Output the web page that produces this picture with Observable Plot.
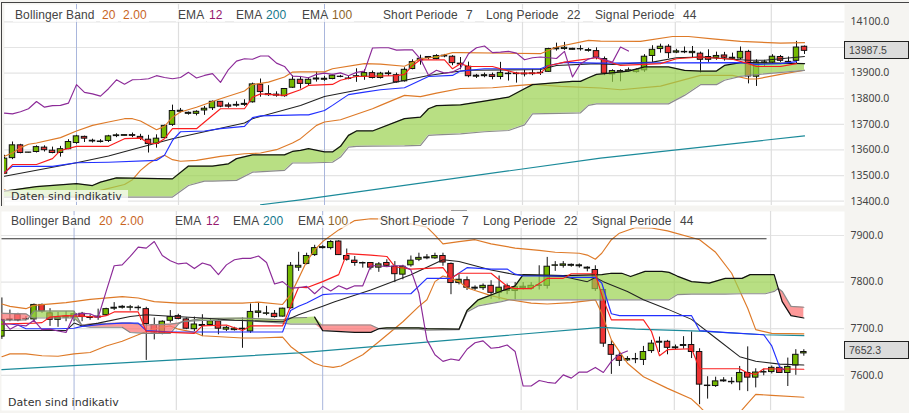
<!DOCTYPE html>
<html><head><meta charset="utf-8">
<script src="https://cdn.jsdelivr.net/npm/d3@7"></script>
<script src="https://cdn.jsdelivr.net/npm/@observablehq/plot@0.6"></script>
<style>
html,body{margin:0;padding:0;background:#f5f4f1;overflow:hidden}
#c{position:relative;width:909px;height:413px;overflow:hidden;font-family:"Liberation Sans",Arial,sans-serif}
#c svg{position:absolute;left:0;background:transparent}
.lg{position:absolute;font-size:12px;line-height:13px;height:13px;color:#444;background:rgba(255,255,255,.72);padding:0 2px;margin-left:-2px;white-space:nowrap;letter-spacing:.1px}
.box{position:absolute;left:844px;width:65px;height:18px;box-sizing:border-box;border:1px solid #222;background:#dcdcdc;font-size:10.5px;line-height:16px;padding-left:4px;color:#444}
.ind{position:absolute;font-family:"DejaVu Sans",sans-serif;font-size:11px;line-height:12px;height:12px;color:#333;letter-spacing:.05px}
.edge{position:absolute;background:#444}
</style></head><body><div id="c"></div>
<script>
// ---------- upper chart ----------
const topOpen=[13507,13568,13618,13589,13592,13609,13597,13588,13603,13627,
13651,13633,13631,13635,13654,13655,13658,13651,13640,13624,
13646,13698,13749,13741,13741,13754,13763,13788,13774,13773,
13776,13786,13855,13818,13816,13810,13843,13874,13858,13875,
13874,13877,13885,13877,13887,13886,13900,13881,13896,13892,
13868,13916,13950,13959,13955,13965,13964,13934,13925,13886,
13888,13892,13885,13896,13896,13895,13896,13900,13905,13993,
13994,13991,13993,13987,13986,13955,13895,13908,13908,13904,
13911,13967,13994,14003,13980,13981,13978,13976,13963,13960,
13969,13956,13957,13983,13886,13939,13941,13963,13942,13948,14003];
const topHigh=[13579,13631,13622,13590,13616,13616,13611,13614,13640,13657,
13654,13642,13640,13657,13663,13658,13666,13661,13657,13659,
13697,13775,13762,13748,13753,13770,13791,13789,13783,13788,
13796,13861,13877,13851,13827,13840,13890,13887,13882,13904,
13887,13895,13891,13887,13917,13913,13908,13903,13908,13900,
13921,13952,13970,13965,13972,13973,13968,13961,13943,13895,
13900,13900,13942,13905,13903,13911,13913,13917,13997,14017,
14020,13997,14007,13997,13999,13963,13913,13913,13920,13917,
13972,14007,14013,14011,13993,14002,14004,13982,13991,13982,
13981,13978,14002,13989,13952,13950,13972,13969,13963,14024,14006];
const topLow=[13507,13562,13585,13588,13588,13592,13585,13572,13601,13622,
13629,13627,13627,13629,13648,13655,13648,13637,13588,13607,
13644,13692,13744,13736,13733,13735,13754,13765,13763,13767,
13770,13783,13806,13809,13806,13806,13840,13838,13848,13865,
13868,13874,13882,13874,13864,13872,13877,13877,13887,13861,
13865,13913,13931,13952,13952,13960,13929,13913,13882,13879,
13882,13874,13874,13869,13861,13885,13890,13891,13903,13986,
13989,13990,13986,13982,13952,13890,13864,13866,13903,13900,
13903,13942,13978,13957,13976,13976,13960,13900,13942,13950,
13947,13952,13952,13858,13848,13926,13937,13942,13937,13934,13973];
const topClose=[13566,13618,13588,13590,13611,13599,13588,13603,13631,13653,
13644,13636,13633,13653,13657,13658,13655,13644,13623,13644,
13694,13752,13753,13745,13749,13761,13788,13769,13769,13776,
13780,13856,13826,13814,13812,13838,13874,13858,13874,13879,
13878,13890,13886,13879,13888,13900,13881,13898,13899,13864,
13913,13943,13956,13963,13967,13968,13939,13937,13888,13890,
13892,13885,13901,13898,13898,13898,13899,13901,13994,13997,
13999,13995,13994,13990,13960,13898,13908,13903,13911,13912,
13964,13991,14003,13978,13985,13983,13983,13952,13952,13967,
13960,13960,13983,13887,13942,13942,13964,13948,13944,14000,13987];
const topPurple=[13744,13741,13749,13761,13789,13767,13773,13774,13783,13855,
13825,13819,13810,13839,13874,13857,13874,13875,13878,13890,
13883,13878,13883,13903,13881,13891,13898,13864,13914,13947,
13956,13954,13967,13967,13939,13926,13888,13887,13882,13895,
13900,13895,13901,13890,13903,13908,13998,13999,13999,13990,
13991,13991,13955,13892,13911,13900,13904,13920,13976,13999,
14006,13980,13982,13985,13978,13952,13960,13963,13960,13957,
13985,13885,13937,13955,13963,13952,13943,14002,13986];
const topBandUp=[[0,13575],[1,13588],[2,13609],[3,13622],[4,13627],[7,13648],[9,13674],[11,13696],[13,13709],[15,13722],[16,13722],[17,13713],[19,13679],[20,13692],[21,13728],[22,13748],[24,13767],[27,13800],[30,13830],[31,13855],[33,13865],[35,13885],[36,13904],[37,13905],[40,13905],[41,13917],[45,13937],[47,13935],[50,13927],[52,13956],[54,13963],[56,13980],[57,13980],[67,13976],[69,14002],[73,14028],[74.5,14025],[79.5,14024],[83.5,14043],[85.5,14043],[88.5,14034],[92,14024],[97,14017],[100,14019]];
const topBandLow=[[0,13444],[1,13431],[5,13416],[11,13422],[12,13442],[15,13465],[16,13484],[17,13520],[18,13546],[19,13566],[20,13579],[21,13562],[22,13556],[24,13559],[27,13575],[30,13585],[32,13588],[34,13601],[36,13627],[37,13644],[39,13696],[40,13709],[42,13718],[46,13761],[47,13774],[50,13813],[52,13808],[54,13822],[57,13840],[61,13843],[64,13851],[66,13856],[69.5,13848],[74.5,13842],[77,13835],[82,13849],[87,13891],[91,13891],[93,13877],[94,13877],[97,13895],[100,13911]];
const topBlack=[[0,13497],[9,13550],[13,13576],[16,13602],[21,13644],[30,13705],[31,13722],[37,13774],[40,13809],[45,13839],[49,13865],[51,13878],[53,13891],[56,13904],[58,13911],[67,13914],[69,13930],[74,13937],[76,13934],[81,13943],[84,13960],[87,13963],[90,13956],[93,13950],[95,13950],[100,13965]];
const topRed=[[0,13510],[1,13543],[4,13543],[6,13566],[7,13598],[9,13614],[13,13614],[15,13644],[17,13646],[18,13627],[19,13624],[20,13644],[21,13683],[24,13683],[27,13761],[30,13761],[31,13806],[32,13819],[35,13813],[37,13835],[38,13852],[41,13856],[42,13872],[44,13887],[49,13890],[50,13895],[51,13930],[52,13952],[55,13952],[56,13917],[57,13937],[58,13926],[61,13926],[64,13900],[67,13900],[68,13929],[70,13943],[72,13952],[74,13960],[74.5,13954],[77,13930],[80,13934],[82,13937],[84,13956],[87,13963],[91,13954],[93,13937],[94,13926],[97,13926],[99,13937]];
const topBlue=[[0,13513],[1,13536],[6,13536],[9,13550],[13,13552],[19,13559],[20,13579],[21,13637],[22,13671],[25,13674],[27,13683],[30,13692],[31,13726],[32,13733],[37,13737],[38,13737],[40,13754],[41,13774],[43,13816],[45,13826],[47,13835],[50,13843],[52,13872],[53,13887],[56,13891],[57,13908],[60,13917],[67,13917],[68,13930],[70,13942],[74,13939],[92,13941],[94,13934],[97,13937],[99,13945]];
const topTeal=[[32,13386],[37,13405],[74.5,13568],[100,13655]];
const topCloudAt=[0,4,9,11,12,14,21,23,25,26,28,29,31,35,36,37,38,40,41,42,43,44,46,50,52,53,54,57,60,63,65,66,71,72,73,74,75,78,80,83,85,87,89,90,92,93,100];
const topCloudA=[13439,13457,13468,13461,13474,13491,13487,13537,13537,13537,13546,13566,13581,13581,13594,13598,13605,13592,13592,13614,13657,13674,13674,13722,13728,13761,13773,13776,13791,13806,13839,13855,13868,13868,13882,13895,13898,13908,13924,13924,13911,13908,13908,13930,13941,13941,13937];
const topCloudB=[13416,13416,13416,13416,13416,13416,13416,13461,13478,13478,13480,13481,13513,13520,13549,13549,13549,13551,13552,13572,13611,13614,13615,13616,13618,13657,13659,13663,13671,13676,13698,13741,13744,13745,13774,13780,13780,13780,13780,13780,13813,13855,13855,13872,13887,13891,13911];
const topTicks=[14100,14000,13900,13800,13700,13600,13500,13400];
const topLabels=[14100,13900,13800,13700,13600,13500,13400];
const topLast=13987.5;

// ---------- lower chart ----------
const lowOpen=[7683,7719,7730,7720,7720,7751,7733,7719,7724,7724,
7732,7723,7724,7729,7743,7745,7745,7744,7742,7708,
7689,7717,7727,7720,7699,7706,7708,7716,7698,7697,
7699,7694,7734,7732,7732,7726,7744,7831,7839,7858,
7873,7873,7887,7856,7846,7840,7841,7831,7841,7833,
7816,7836,7848,7851,7851,7856,7839,7798,7804,7786,
7787,7792,7777,7791,7781,7787,7786,7792,7792,7835,
7835,7835,7834,7829,7826,7783,7665,7642,7632,7634,
7633,7652,7670,7672,7658,7663,7665,7650,7577,7577,
7587,7585,7585,7605,7595,7606,7607,7616,7605,7621,7647];
const lowHigh=[7766,7740,7733,7726,7753,7753,7743,7735,7737,7737,
7735,7730,7742,7744,7756,7750,7750,7749,7746,7723,
7717,7739,7731,7723,7725,7730,7722,7719,7705,7703,
7723,7753,7756,7748,7739,7744,7842,7864,7862,7879,
7878,7889,7889,7871,7855,7843,7842,7842,7848,7844,
7836,7856,7862,7859,7862,7862,7841,7816,7811,7792,
7796,7803,7813,7796,7799,7799,7799,7835,7853,7844,
7844,7839,7839,7833,7835,7787,7674,7650,7640,7647,
7662,7675,7682,7675,7665,7683,7693,7657,7597,7596,
7595,7595,7619,7661,7614,7613,7620,7620,7637,7655,7655];
const lowLow=[7677,7715,7715,7717,7715,7733,7705,7703,7715,7715,
7715,7718,7718,7728,7739,7742,7738,7738,7632,7676,
7687,7712,7719,7698,7694,7683,7706,7687,7694,7695,
7658,7690,7723,7728,7723,7725,7742,7823,7837,7855,
7871,7869,7857,7845,7834,7830,7826,7821,7832,7799,
7805,7832,7844,7848,7849,7834,7773,7794,7782,7782,
7782,7763,7762,7773,7762,7783,7783,7783,7785,7823,
7830,7832,7830,7822,7780,7660,7602,7619,7630,7625,
7621,7647,7649,7644,7655,7656,7636,7537,7549,7574,
7585,7580,7567,7565,7573,7599,7603,7605,7576,7600,7641];
const lowClose=[7719,7720,7718,7721,7751,7737,7719,7724,7726,7731,
7725,7725,7726,7742,7745,7747,7746,7745,7710,7692,
7715,7725,7721,7700,7709,7708,7716,7700,7702,7700,
7700,7736,7737,7733,7725,7743,7835,7835,7856,7873,
7875,7886,7858,7848,7841,7841,7831,7838,7835,7817,
7833,7846,7852,7853,7856,7842,7798,7805,7788,7788,
7792,7777,7788,7781,7789,7790,7792,7793,7833,7836,
7838,7837,7836,7831,7785,7668,7644,7631,7635,7635,
7650,7668,7672,7659,7660,7665,7650,7580,7578,7587,
7589,7586,7605,7595,7606,7607,7616,7605,7618,7644,7650];
const lowPurple=[7719,7699,7708,7706,7718,7698,7699,7695,7692,7730,
7733,7732,7724,7780,7835,7837,7855,7875,7873,7887,
7857,7846,7839,7841,7829,7841,7836,7816,7837,7848,
7851,7851,7856,7842,7796,7801,7787,7788,7791,7775,
7791,7781,7792,7785,7792,7792,7835,7835,7833,7835,
7835,7826,7776,7676,7644,7630,7635,7632,7656,7670,
7674,7658,7660,7665,7651,7577,7577,7589,7585,7583,
7601,7594,7607,7607,7617,7606,7630,7645,7652];
const lowBandUp=[[0,7753],[1,7748],[3,7743],[4,7750],[8,7756],[11,7763],[15,7769],[17,7766],[19,7758],[22,7755],[30,7755],[32,7757],[35,7752],[36,7773],[37,7808],[38,7844],[39,7869],[40,7887],[42,7912],[44,7932],[46,7936],[48,7935],[51,7925],[53,7918],[54,7901],[55,7882],[57,7887],[59,7891],[61,7882],[64,7873],[67,7868],[69,7864],[72,7862],[73,7858],[74,7849],[74.8,7862],[76,7891],[77,7905],[79,7917],[81,7916],[83,7910],[87,7891],[89,7864],[91,7819],[93,7744],[94,7698],[96,7690],[100,7689]];
const lowBandLow=[[0,7640],[1,7646],[3,7646],[5,7642],[7,7641],[9,7646],[11,7649],[13,7663],[15,7673],[17,7687],[18,7694],[19,7700],[21,7706],[22,7699],[24,7692],[25,7685],[30,7680],[32,7680],[35,7682],[36,7662],[37,7649],[39,7626],[40,7620],[41.3,7617],[42.3,7620],[45,7644],[47,7672],[50,7715],[52,7748],[53,7762],[54,7801],[55,7813],[56,7808],[57,7801],[58,7788],[59,7782],[61,7771],[63,7763],[66,7755],[68,7753],[71,7756],[74,7762],[74.8,7733],[76,7676],[78,7626],[80,7597],[83,7572],[86,7549],[87,7533],[88,7515],[91,7511],[92,7520],[93,7540],[94,7559],[96,7557],[100,7553]];
const lowBlack=[[0,7696],[8,7696],[9,7712],[10,7706],[12,7712],[16,7726],[18,7730],[20,7728],[25,7723],[29,7718],[35,7715],[37,7730],[40,7748],[41.5,7758],[46,7783],[51,7816],[55,7848],[57,7844],[61,7826],[64,7816],[70,7812],[73,7801],[74,7810],[75,7801],[78,7780],[80,7762],[83,7742],[86,7720],[89,7680],[92,7640],[94,7630],[97,7624],[100,7622]];
const lowRed=[[0,7710],[4,7712],[5,7713],[6,7725],[8,7728],[11,7726],[12,7725],[13,7728],[14,7736],[17,7736],[18,7694],[21,7692],[24,7690],[25,7706],[28,7708],[30,7696],[31,7706],[35,7706],[36,7748],[37,7789],[38,7788],[40,7801],[42,7816],[43,7861],[46,7858],[48,7855],[49,7833],[51,7828],[55,7831],[56,7808],[57,7819],[61,7819],[63,7791],[64,7786],[66,7786],[68,7808],[70,7808],[71,7818],[74,7818],[75,7762],[76,7719],[80,7719],[81,7694],[82,7642],[83,7655],[86,7657],[87,7614],[92,7614],[93,7605],[94,7602],[95,7614],[100,7613]];
const lowBlue=[[0,7710],[1,7710],[2,7708],[3,7700],[7,7700],[9,7701],[10,7705],[13,7710],[15,7712],[17,7712],[18,7696],[21,7693],[30,7693],[35,7693],[36,7739],[37,7748],[38,7755],[40,7773],[41.5,7775],[51,7775],[53,7808],[56,7808],[58,7831],[61,7828],[63,7828],[64,7817],[65,7813],[70,7813],[71,7810],[74,7810],[74.8,7798],[76,7732],[77,7728],[86,7728],[87,7696],[90,7692],[95,7687],[96,7663],[97,7617],[97.5,7612]];
const lowTeal=[[0,7612],[37,7648],[74.8,7703],[79,7699],[87,7695],[95,7687],[100,7685]];
const lowCeiling=[[0,7893],[95.3,7893]];
const lowCloudAt=[0,3,3.5,4,9,10,11,15,16,18,21,22,22.5,25,30,35,36,38,39,40,44,46,47,48,52,53,57,58,59.4,62.3,63.2,64,65,70,74.8,76,77.3,78.4,80.2,82.3,83.2,84.2,86,88.2,90.2,92.3,93.3,95.2,96.3,96.8,97.3,98.4,100];
const lowCloudA=[7718,7719,7726,7738,7738,7706,7703,7703,7692,7690,7690,7710,7715,7722,7723,7719,7723,7724,7725,7696,7692,7692,7700,7702,7702,7700,7699,7739,7762,7781,7786,7792,7816,7814,7816,7819,7819,7812,7823,7823,7821,7813,7801,7798,7808,7808,7816,7816,7816,7787,7758,7728,7723];
const lowCloudB=[7733,7732,7726,7723,7723,7708,7710,7712,7712,7708,7710,7712,7715,7718,7718,7712,7710,7710,7710,7708,7708,7708,7700,7699,7699,7697,7698,7736,7749,7758,7762,7762,7762,7762,7762,7762,7762,7762,7762,7762,7762,7773,7774,7774,7774,7775,7775,7775,7780,7787,7780,7748,7746];
const lowTicks=[7900,7800,7700,7600];
const lowLast=7652.3;

// ---------- shared ----------
const verticals=[21.75,64.75,71.75,83.85,95.85];
const cursor=[9,40];
const legendTop=[["Bollinger Band",15,"#444"],["20",102,"#c8641e"],["2.00",123,"#c8641e"],["EMA",178,"#444"],["12",209,"#96186e"],["EMA",236,"#444"],["200",266,"#14788c"],["EMA",302,"#444"],["100",332,"#8c6428"],["Short Periode",383,"#444"],["7",466,"#444"],["Long Periode",486,"#444"],["22",567,"#444"],["Signal Periode",595,"#444"],["44",683,"#444"]];
const legendLow=[["Bollinger Band",11,"#444"],["20",99,"#c8641e"],["2.00",120,"#c8641e"],["EMA",175,"#444"],["12",206,"#96186e"],["EMA",233,"#444"],["200",263,"#14788c"],["EMA",298,"#444"],["100",328,"#8c6428"],["Short Periode",380,"#444"],["7",462,"#444"],["Long Periode",483,"#444"],["22",564,"#444"],["Signal Periode",592,"#444"],["44",680,"#444"]];

const c=document.getElementById("c");
function panel(p){
  const bars=p.open.map((o,i)=>({i,o,h:p.high[i],l:p.low[i],c:p.close[i]}));
  const cloud=p.cloudAt.map((i,k)=>({i,a:p.cloudA[k],b:p.cloudB[k]}));
  const edgeA=cloud.map(d=>[d.i,d.a]);
  const edgeB=cloud.map(d=>[d.i,d.b]);
  const line=(d,stroke,w=1.15)=>Plot.line(d,{x:r=>r[0],y:r=>r[1],stroke,strokeWidth:w,clip:true});
  const body=(test,fill)=>Plot.rect(bars.filter(test),{x1:d=>d.i-0.34,x2:d=>d.i+0.34,y1:"o",y2:"c",fill,stroke:"#111",strokeWidth:1,clip:true});
  const chart=Plot.plot({
    width:909,height:p.height,
    marginLeft:p.marginLeft,marginRight:65,marginTop:p.marginTop,marginBottom:p.marginBottom,
    x:{domain:p.xDomain,axis:null},
    y:{domain:p.yDomain,axis:null},
    marks:[
      Plot.frame({fill:"white"}),
      Plot.ruleY(p.ticks,{stroke:"#e4e4e4",strokeWidth:1.2}),
      Plot.ruleX(verticals,{stroke:"#dedede",strokeWidth:1.2}),
      Plot.ruleX(cursor,{stroke:"#a9b6dc",strokeWidth:1}),
      Plot.ruleX(bars,{x:"i",y1:"l",y2:"h",stroke:"#111",strokeWidth:1,clip:true}),
      body(d=>d.c>=d.o,"#74b800"),
      body(d=>d.c<d.o,"#ec3434"),
      line(p.bandUp,"#de7a28"),
      line(p.bandLow,"#de7a28"),
      line(p.teal,"#1b8a9a",1.2),
      Plot.areaY(cloud,{x:"i",y1:d=>Math.max(d.a,d.b),y2:"b",fill:"#9ad24f",fillOpacity:.7,clip:true}),
      Plot.areaY(cloud,{x:"i",y1:d=>Math.min(d.a,d.b),y2:"b",fill:"#fc7777",fillOpacity:.75,clip:true}),
      line(edgeB,"#8c8c8c",1.2),
      line(edgeA.filter(r=>r[0]<p.faintBefore),"#808080",1.1),
      line(edgeA.filter(r=>r[0]>=p.faintBefore),"#111",1.25),
      line(p.ceiling||[],"#333",1),
      line(p.black,"#222",1.05),
      line(p.blue,"#2230ff"),
      line(p.red,"#fa1e1e"),
      line(p.purple.map((v,i)=>[i,v]),"#8c2a98"),
      Plot.axisY(p.labels,{anchor:"right",tickSize:0,tickPadding:6,tickFormat:d=>d.toFixed(1),fontSize:10.5,fill:"#444",label:null})
    ]
  });
  chart.style.top=p.top+"px";
  c.appendChild(chart);
  p.legend.forEach(([t,x,col])=>{
    const s=document.createElement("div");s.className="lg";s.textContent=t;
    s.style.left=x+"px";s.style.top=(p.top+p.legendY)+"px";s.style.color=col;c.appendChild(s);
  });
  const b=document.createElement("div");b.className="box";b.textContent=p.last.toFixed(1);
  b.style.top=(p.top+chart.scale("y").apply(p.last)-9)+"px";c.appendChild(b);
}
panel({top:0,height:207,marginLeft:4,marginTop:4,marginBottom:2,xDomain:[0,105],yDomain:[13383,14168],faintBefore:-1,
  open:topOpen,high:topHigh,low:topLow,close:topClose,purple:topPurple,bandUp:topBandUp,bandLow:topBandLow,
  black:topBlack,red:topRed,blue:topBlue,teal:topTeal,cloudAt:topCloudAt,cloudA:topCloudA,cloudB:topCloudB,
  ticks:topTicks,labels:topLabels,last:topLast,legend:legendTop,legendY:9});
panel({top:207,height:206,marginLeft:1,marginTop:4,marginBottom:3,xDomain:[-0.05,105.07],yDomain:[7524.5,7951.5],faintBefore:39,
  open:lowOpen,high:lowHigh,low:lowLow,close:lowClose,purple:lowPurple,bandUp:lowBandUp,bandLow:lowBandLow,
  black:lowBlack,red:lowRed,blue:lowBlue,teal:lowTeal,ceiling:lowCeiling,cloudAt:lowCloudAt,cloudA:lowCloudA,cloudB:lowCloudB,
  ticks:lowTicks,labels:lowTicks,last:lowLast,legend:legendLow,legendY:8});
[[1,2,908,1,"#444"],[1,2,1,204,"#444"],[451,210,16,1,"#999"]].forEach(([l,t,w,h,col])=>{const e=document.createElement("div");e.className="edge";
  e.style.cssText=`left:${l}px;top:${t}px;width:${w}px;height:${h}px;background:${col}`;c.appendChild(e);});
const mk=(l,t)=>{const e=document.createElement("div");e.className="ind";e.textContent="Daten sind indikativ";e.style.left=l+"px";e.style.top=t+"px";c.appendChild(e);return e;};
const veil=document.createElement("div");veil.style.cssText="position:absolute;left:4px;top:190px;width:124px;height:12px;background:rgba(255,255,255,.72)";c.appendChild(veil);
mk(11,191);mk(8,397);
</script></body></html>
